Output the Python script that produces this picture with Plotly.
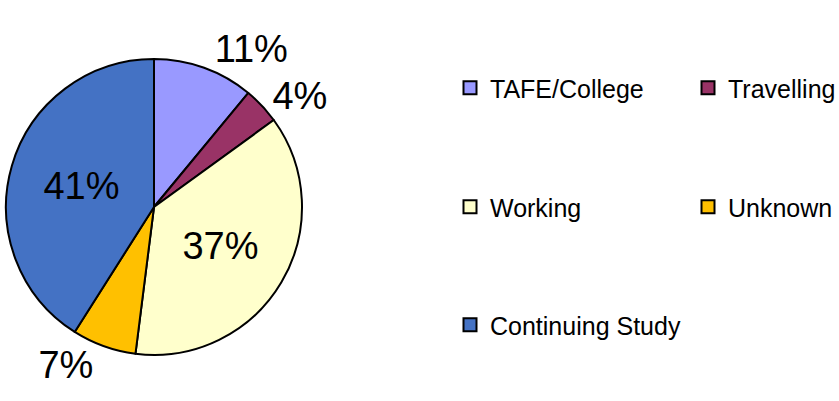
import plotly.graph_objects as go

categories = ["TAFE/College", "Travelling", "Working", "Unknown", "Continuing Study"]
values = [11, 4, 37, 7, 41]
colors = ["#9999FF", "#993366", "#FFFFCC", "#FFC000", "#4472C4"]
text_positions = ["outside", "outside", "inside", "outside", "inside"]

W, H = 839, 401
cx, cy, r = 154, 207, 148

fig = go.Figure()
fig.add_trace(go.Pie(
    labels=categories,
    values=values,
    sort=False,
    direction="clockwise",
    rotation=0,
    marker=dict(colors=colors, line=dict(color="black", width=2)),
    textinfo="percent",
    texttemplate="%{percent:.0%}",
    textposition=text_positions,
    insidetextorientation="horizontal",
    textfont=dict(family="Liberation Sans, Arial", size=38, color="black"),
    showlegend=False,
    hoverinfo="label+percent",
    domain=dict(x=[(cx - r) / W, (cx + r) / W],
                y=[(H - cy - r) / H, (H - cy + r) / H]),
))

# legend entries (one legend per entry to reproduce the sparse 2-column layout)
legend_pos = [(450, 88), (688, 88), (450, 207), (688, 207), (450, 325)]
layout_legends = {}
for i, (name, col) in enumerate(zip(categories, colors)):
    key = "legend" if i == 0 else f"legend{i + 1}"
    fig.add_trace(go.Scatter(
        x=[None], y=[None], mode="markers", name=name,
        marker=dict(symbol="square", size=13, color=col,
                    line=dict(color="black", width=2)),
        legend=key, showlegend=True, hoverinfo="skip",
    ))
    lx, ly = legend_pos[i]
    layout_legends[key] = dict(
        x=lx / W, xanchor="left",
        y=(H - ly) / H, yanchor="middle",
        orientation="h",
        bgcolor="rgba(0,0,0,0)",
        font=dict(family="Liberation Sans, Arial", size=25, color="black"),
        itemclick=False, itemdoubleclick=False,
    )

fig.update_layout(
    width=W, height=H,
    margin=dict(l=0, r=0, t=0, b=0, pad=0, autoexpand=False),
    paper_bgcolor="white",
    plot_bgcolor="white",
    xaxis=dict(visible=False),
    yaxis=dict(visible=False),
    **layout_legends,
)

fig.write_html(
    "out.html",
    config={"displayModeBar": False},
    post_script="document.body.style.margin='0px';document.body.style.overflow='hidden';",
)
